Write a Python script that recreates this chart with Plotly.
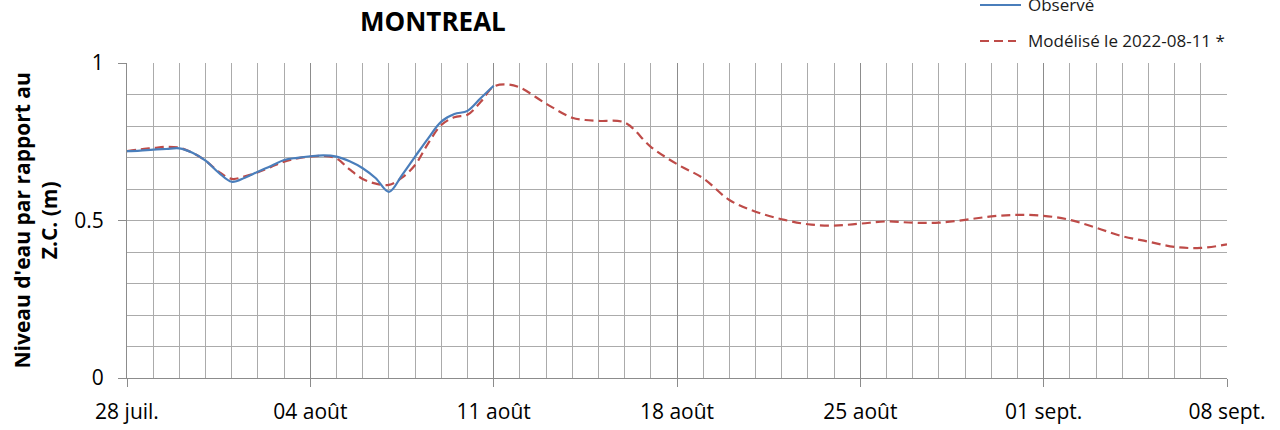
import pandas as pd
import plotly.graph_objects as go

start_date = "2022-07-28"

# Observed series: day offsets from 28 juil. and water level (m)
obs_days = [0.0, 0.5, 1.0, 1.5, 2.0, 2.5, 3.0, 3.5, 4.0, 4.5, 5.0, 5.5, 6.0, 6.5,
            7.0, 7.5, 8.0, 8.5, 9.0, 9.5, 10.0, 10.5, 11.0, 11.5, 12.0, 12.5,
            13.0, 13.5, 14.0]
obs_values = [0.720, 0.722, 0.725, 0.727, 0.729, 0.715, 0.690, 0.652, 0.623, 0.636,
              0.655, 0.673, 0.692, 0.699, 0.704, 0.707, 0.703, 0.688, 0.666, 0.634,
              0.591, 0.644, 0.703, 0.761, 0.814, 0.838, 0.848, 0.888, 0.928]

# Modelled series
mod_days = [0.0, 0.5, 1.0, 1.5, 2.0, 2.5, 3.0, 3.5, 4.0, 4.5, 5.0, 5.5, 6.0, 6.5,
            7.0, 7.5, 8.0, 8.5, 9.0, 9.5, 10.0, 10.5, 11.0, 11.5, 12.0, 12.5,
            13.0, 13.5, 14.0, 14.5, 15, 16, 17, 17.5, 18, 19, 20, 21, 22, 23, 24,
            25, 26, 27, 28, 29, 30, 31, 32, 33, 34, 35, 36, 37, 38, 39, 40, 41, 42]
mod_values = [0.720, 0.726, 0.730, 0.734, 0.731, 0.715, 0.690, 0.655, 0.632, 0.640,
              0.653, 0.670, 0.687, 0.697, 0.703, 0.705, 0.697, 0.662, 0.632, 0.617,
              0.613, 0.636, 0.676, 0.745, 0.803, 0.828, 0.836, 0.876, 0.925, 0.932,
              0.922, 0.871, 0.826, 0.819, 0.816, 0.811, 0.734, 0.679, 0.634, 0.565,
              0.528, 0.504, 0.488, 0.484, 0.490, 0.497, 0.493, 0.493, 0.502, 0.513,
              0.518, 0.515, 0.502, 0.477, 0.450, 0.433, 0.416, 0.413, 0.424]

tick_dates = ["2022-07-28", "2022-08-04", "2022-08-11", "2022-08-18",
              "2022-08-25", "2022-09-01", "2022-09-08"]
tick_labels = ["28 juil.", "04 août", "11 août", "18 août", "25 août",
               "01 sept.", "08 sept."]

y_tickvals = [0, 0.5, 1]
y_ticklabels = ["0", "0.5", "1"]

title_text = "MONTREAL"
y_title = "Niveau d'eau par rapport au<br>Z.C. (m)"
obs_name = "Observé"
mod_name = "Modélisé le 2022-08-11 *"

t0 = pd.Timestamp(start_date)
obs_x = [t0 + pd.Timedelta(days=d) for d in obs_days]
mod_x = [t0 + pd.Timedelta(days=d) for d in mod_days]

FONT = "Open Sans"
BLUE = "#4A7EBB"
RED = "#BE4B48"
MAJOR = "#8C8C8C"
MINOR = "#ABABAB"

fig = go.Figure()
fig.add_trace(go.Scatter(x=mod_x, y=mod_values, mode="lines", name=mod_name,
                         line=dict(color=RED, width=2.2, dash="9px,5px", shape="spline"),
                         showlegend=False))
fig.add_trace(go.Scatter(x=obs_x, y=obs_values, mode="lines", name=obs_name,
                         line=dict(color=BLUE, width=2.2, shape="spline"),
                         showlegend=False))

W, H = 1280, 430
L, R, T, B = 127, 53, 63, 52
pw, ph = W - L - R, H - T - B

def px(xp):
    return (xp - L) / pw

def py(yp):
    return 1 + (T - yp) / ph

fig.update_layout(
    width=W, height=H,
    margin=dict(l=L, r=R, t=T, b=B, autoexpand=False),
    paper_bgcolor="white", plot_bgcolor="white",
    font=dict(family=FONT, color="black"),
    showlegend=False,
    xaxis=dict(
        type="date", range=[tick_dates[0], tick_dates[-1]],
        tickvals=tick_dates, ticktext=tick_labels,
        tickfont=dict(family=FONT, size=21, color="black"),
        ticks="outside", ticklen=8, tickcolor=MAJOR, ticklabelstandoff=7,
        showline=True, linecolor=MAJOR, linewidth=1,
        showgrid=True, gridcolor=MAJOR, gridwidth=1,
        minor=dict(dtick=86400000, showgrid=True, gridcolor=MINOR, gridwidth=1, ticks=""),
        zeroline=False, fixedrange=True, automargin=False,
    ),
    yaxis=dict(
        range=[0, 1], tickvals=y_tickvals, ticktext=y_ticklabels,
        tickfont=dict(family=FONT, size=21, color="black"),
        ticks="outside", ticklen=8, tickcolor=MAJOR, ticklabelstandoff=10,
        showline=True, linecolor=MAJOR, linewidth=1,
        showgrid=True, gridcolor=MINOR, gridwidth=1,
        minor=dict(dtick=0.1, showgrid=True, gridcolor=MINOR, gridwidth=1, ticks=""),
        zeroline=False, fixedrange=True, automargin=False,
    ),
)

annotations = [
    dict(text="<b>" + title_text + "</b>", x=px(432.5), y=py(21), xref="paper", yref="paper",
         xanchor="center", yanchor="middle", showarrow=False,
         font=dict(family=FONT, size=26, color="black")),
    dict(text="<b>" + y_title + "</b>", x=px(35), y=0.5, xref="paper", yref="paper",
         xanchor="center", yanchor="middle", showarrow=False, textangle=-90,
         font=dict(family=FONT, size=21, color="black")),
    dict(text=obs_name, x=px(1026), y=py(5), xref="paper", yref="paper",
         xanchor="left", yanchor="middle", showarrow=False,
         font=dict(family=FONT, size=17, color="#1A1A1A")),
    dict(text=mod_name, x=px(1026), y=py(40), xref="paper", yref="paper",
         xanchor="left", yanchor="middle", showarrow=False,
         font=dict(family=FONT, size=17, color="#1A1A1A")),
]
shapes = [
    dict(type="line", xref="paper", yref="paper", x0=px(980), x1=px(1021), y0=py(5), y1=py(5),
         line=dict(color=BLUE, width=2.2)),
    dict(type="line", xref="paper", yref="paper", x0=px(980), x1=px(1016), y0=py(41), y1=py(41),
         line=dict(color=RED, width=2.2, dash="9px,5px")),
]
fig.update_layout(annotations=annotations, shapes=shapes)

fig.write_html("out.html", config={"displayModeBar": False},
               post_script="document.body.style.margin='0px';")
